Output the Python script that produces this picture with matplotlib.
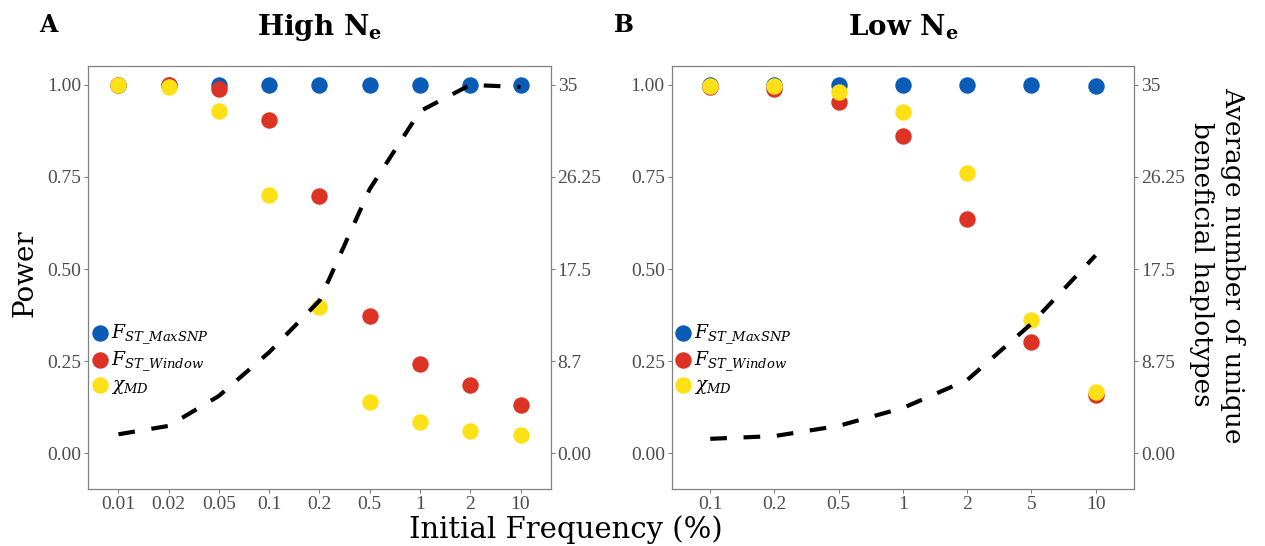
import matplotlib
matplotlib.use("Agg")
import matplotlib.pyplot as plt

plt.rcParams['font.family'] = ['Liberation Serif', 'DejaVu Serif']
plt.rcParams['mathtext.fontset'] = 'dejavuserif'

# panel A: high Ne
freq_high = ["0.01", "0.02", "0.05", "0.1", "0.2", "0.5", "1", "2", "10"]
maxsnp_high = [1.0, 1.0, 1.0, 1.0, 1.0, 1.0, 1.0, 1.0, 1.0]
window_high = [1.0, 1.0, 0.989, 0.906, 0.697, 0.373, 0.243, 0.184, 0.130]
chi_high = [1.0, 0.994, 0.928, 0.701, 0.398, 0.138, 0.085, 0.061, 0.050]
hap_high = [1.8, 2.6, 5.45, 9.6, 14.5, 25.1, 32.5, 35.0, 34.8]

# panel B: low Ne
freq_low = ["0.1", "0.2", "0.5", "1", "2", "5", "10"]
maxsnp_low = [1.0, 1.0, 1.0, 1.0, 1.0, 1.0, 0.996]
window_low = [0.995, 0.989, 0.953, 0.861, 0.635, 0.301, 0.158]
chi_low = [0.998, 0.997, 0.982, 0.927, 0.761, 0.362, 0.165]
hap_low = [1.37, 1.63, 2.6, 4.3, 6.95, 12.3, 18.8]

right_ticks_high = ["0.00", "8.7", "17.5", "26.25", "35"]
right_ticks_low = ["0.00", "8.75", "17.5", "26.25", "35"]

blue = '#0a5cb6'
red = '#dc3324'
yellow = '#fde015'
grey = '#7f7f7f'
tick_col = '#4d4d4d'
serif2 = 'DejaVu Serif'

fig = plt.figure(figsize=(12.65, 5.46), dpi=100)
axA = fig.add_axes([0.0698, 0.1038, 0.3655, 0.7758])
axB = fig.add_axes([0.5310, 0.1038, 0.3655, 0.7758])


def draw(ax, freqs, maxsnp, window, chi, hap, rlabels, title):
    x = list(range(1, len(freqs) + 1))
    ax.scatter(x, maxsnp, s=140, color=blue, zorder=3, label=r'$F_{ST\_MaxSNP}$', linewidths=0)
    ax.scatter(x, window, s=140, color=red, zorder=4, label=r'$F_{ST\_Window}$', linewidths=0)
    ax.scatter(x, chi, s=140, color=yellow, zorder=5, label=r'$\chi_{MD}$', linewidths=0)
    ax.set_xlim(0.4, len(freqs) + 0.6)
    ax.set_ylim(-0.098, 1.052)
    ax.set_xticks(x)
    ax.set_xticklabels(freqs)
    ax.set_yticks([0, 0.25, 0.5, 0.75, 1.0])
    ax.set_yticklabels(["0.00", "0.25", "0.50", "0.75", "1.00"])
    for s in ax.spines.values():
        s.set_color(grey)
    ax.tick_params(colors=grey, labelcolor=tick_col, labelsize=14, length=3, pad=2)

    ax2 = ax.twinx()
    ax2.plot(x, hap, color='black', lw=3.0, dashes=(4, 4), zorder=6)
    ax2.set_ylim(-0.098 * 35, 1.052 * 35)
    ax2.set_yticks([0, 8.75, 17.5, 26.25, 35])
    ax2.set_yticklabels(rlabels)
    for s in ax2.spines.values():
        s.set_color(grey)
    ax2.tick_params(colors=grey, labelcolor=tick_col, labelsize=14, length=3, pad=2)

    ax.set_title(title, fontsize=20, fontweight='bold', family=serif2, pad=22)
    ax.legend(loc='center left', bbox_to_anchor=(0.0, 0.307), frameon=False,
              fontsize=13.5, handlelength=1.0, handletextpad=0.1, labelspacing=0.2,
              borderpad=0, borderaxespad=0.1)
    return ax2


draw(axA, freq_high, maxsnp_high, window_high, chi_high, hap_high,
     right_ticks_high, r'High N$_\mathbf{e}$')
draw(axB, freq_low, maxsnp_low, window_low, chi_low, hap_low,
     right_ticks_low, r'Low N$_\mathbf{e}$')

fig.text(0.02, 0.5, "Power", fontsize=20, family=serif2, rotation=90,
         ha='center', va='center')
fig.text(0.447, 0.03, "Initial Frequency (%)", fontsize=21, family=serif2,
         ha='center', va='center')
fig.text(0.962, 0.515, "Average number of unique\nbeneficial haplotypes", fontsize=19,
         family=serif2, rotation=270, ha='center', va='center', linespacing=1.3)
fig.text(0.038, 0.955, "A", fontsize=17, fontweight='bold', family=serif2,
         ha='center', va='center')
fig.text(0.493, 0.955, "B", fontsize=17, fontweight='bold', family=serif2,
         ha='center', va='center')

plt.savefig("out.png", dpi=100)
